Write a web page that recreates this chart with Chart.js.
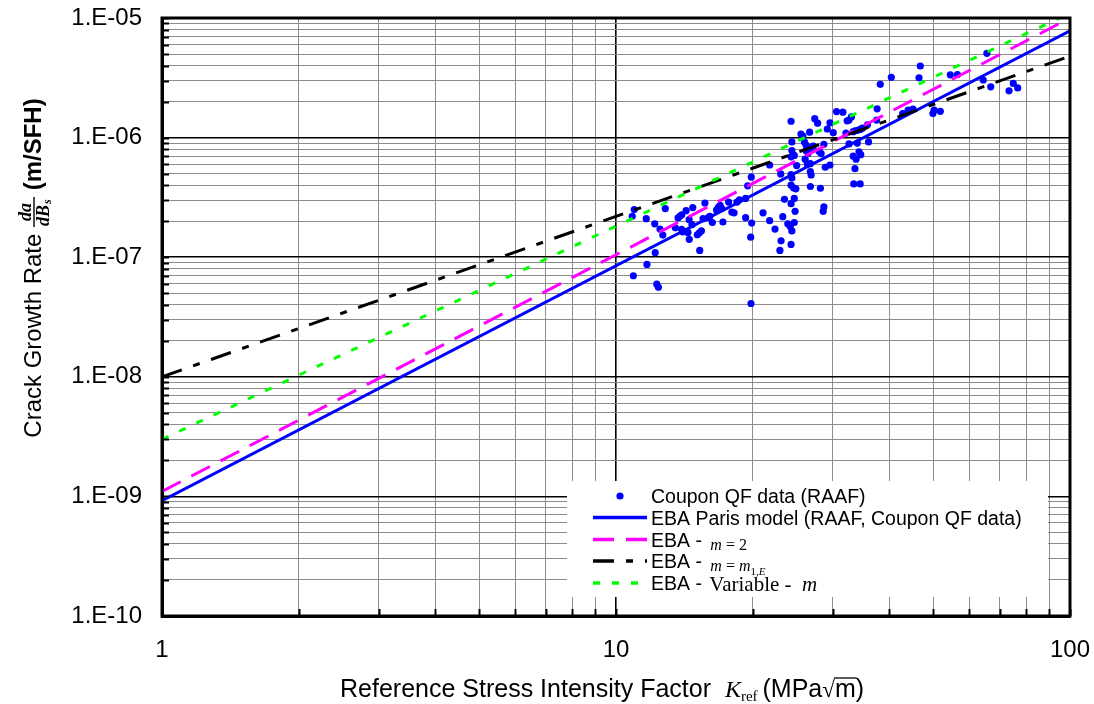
<!DOCTYPE html>
<html>
<head>
<meta charset="utf-8">
<script src="https://cdn.jsdelivr.net/npm/chart.js@4.4.1/dist/chart.umd.min.js"></script>
<style>
  html, body { margin: 0; padding: 0; background: #fff; }
  #wrap { width: 1094px; height: 704px; }
</style>
</head>
<body>
<div id="wrap"><canvas id="chart" width="1094" height="704"></canvas></div>
<script>
// Coupon QF test data (RAAF): reference stress intensity factor (MPa√m) and growth rate (m/SFH)
const couponK = [
  10.97, 10.86, 10.92, 11.66, 11.7, 12.17, 12.2, 12.3, 12.4, 12.5,
  12.68, 12.84, 13.51, 13.7, 13.84, 13.96, 13.95, 14.03, 14.27, 14.4,
  14.49, 14.5, 14.7, 14.76, 15.1, 15.26, 15.29, 15.42, 15.55, 15.7,
  15.97, 16.1, 16.3, 16.65, 16.8, 16.95, 17.1, 17.2, 17.7, 18.0,
  18.2, 18.47, 18.7, 19.3, 19.3, 19.5, 19.86, 19.9, 19.8, 19.83,
  21.08, 21.8, 21.8, 22.4, 22.96, 23.06, 23.1, 23.3, 23.5, 23.9,
  24.2, 24.3, 24.4, 24.4, 24.3, 24.7, 25.0, 24.3, 24.4, 24.3,
  24.6, 24.9, 24.7, 24.3, 24.8, 24.7, 24.4, 24.3, 25.55, 25.8,
  26.0, 26.2, 26.4, 26.2, 26.5, 26.8, 26.8, 26.4, 26.9, 26.8,
  26.7, 27.4, 27.2, 26.1, 26.8, 28.2, 27.8, 28.0, 28.3, 28.7,
  28.9, 29.6, 28.7, 28.6, 29.6, 29.2, 30.1, 30.6, 31.6, 33.0,
  32.3, 32.6, 35.8, 33.3, 33.6, 34.1, 34.5, 34.9, 32.1, 32.6,
  34.0, 36.0, 34.3, 34.6, 33.3, 33.8, 33.6, 33.4, 34.5, 37.6,
  37.5, 38.2, 40.4, 42.8, 44.0, 45.1, 50.2, 51.8, 49.9, 46.8,
  46.5, 54.5, 56.5, 65.6, 64.4, 66.9, 75.0, 76.7, 73.4
];
const couponRate = [
  2.5e-7, 2.2e-7, 7.0e-8, 2.1e-7, 8.7e-8, 1.9e-7, 1.09e-7, 5.95e-8, 5.6e-8, 1.72e-7,
  1.53e-7, 2.55e-7, 1.76e-7, 2.13e-7, 2.21e-7, 2.26e-7, 1.71e-7, 1.63e-7, 2.45e-7, 1.61e-7,
  2.06e-7, 1.41e-7, 1.87e-7, 2.6e-7, 1.54e-7, 1.6e-7, 1.14e-7, 1.66e-7, 2.1e-7, 2.84e-7,
  2.14e-7, 2.2e-7, 1.95e-7, 2.48e-7, 2.61e-7, 2.72e-7, 2.55e-7, 1.97e-7, 2.89e-7, 2.38e-7,
  2.35e-7, 2.89e-7, 3.02e-7, 2.14e-7, 3.1e-7, 3.95e-7, 4.68e-7, 1.93e-7, 1.47e-7, 4.1e-8,
  2.35e-7, 2.02e-7, 5.9e-7, 1.72e-7, 1.14e-7, 4.97e-7, 1.37e-7, 2.18e-7, 3.05e-7, 1.9e-7,
  1.81e-7, 1.37e-6, 9.2e-7, 7.8e-7, 6.9e-7, 7.1e-7, 5.84e-7, 4.9e-7, 4.6e-7, 4.0e-7,
  3.8e-7, 3.73e-7, 3.1e-7, 2.8e-7, 2.42e-7, 1.95e-7, 1.66e-7, 1.28e-7, 1.07e-6, 1.03e-6,
  9.2e-7, 8.7e-7, 8.3e-7, 7.8e-7, 7.4e-7, 8.1e-7, 6.05e-7, 6.0e-7, 4.87e-7, 3.9e-7,
  1.11e-6, 1.44e-6, 8.5e-7, 6.6e-7, 5.2e-7, 3.77e-7, 1.32e-6, 7.7e-7, 7.35e-7, 8.8e-7,
  5.65e-7, 5.9e-7, 2.63e-7, 2.42e-7, 1.33e-6, 1.18e-6, 1.1e-6, 1.65e-6, 1.63e-6, 1.49e-6,
  1.38e-6, 1.4e-6, 1.28e-6, 1.12e-6, 1.14e-6, 1.15e-6, 1.17e-6, 1.2e-6, 1.09e-6, 8.85e-7,
  9.0e-7, 9.2e-7, 7.6e-7, 7.2e-7, 7.0e-7, 6.6e-7, 5.5e-7, 4.1e-7, 4.1e-7, 1.74e-6,
  1.4e-6, 2.79e-6, 3.19e-6, 1.59e-6, 1.7e-6, 1.73e-6, 1.7e-6, 1.66e-6, 1.59e-6, 3.97e-6,
  3.16e-6, 3.35e-6, 3.37e-6, 5.07e-6, 3.03e-6, 2.66e-6, 2.84e-6, 2.6e-6, 2.46e-6
];

// EBA model curves: straight lines in log-log space, given by their end values
const modelK = [1, 100];
const parisRate = [9.2e-10, 7.8e-6];      // EBA Paris model (RAAF, Coupon QF data)
const m2Rate = [1.1e-9, 1.0e-5];          // EBA - m = 2
const m1ERate = [1.0e-8, 4.8e-6];         // EBA - m = m1,E
const variableMRate = [3.0e-9, 1.1e-5];   // EBA - Variable - m

// Axis tick labels
const xTickValues = [1, 10, 100];
const xTickLabels = ['1', '10', '100'];
const yTickValues = [1e-10, 1e-9, 1e-8, 1e-7, 1e-6, 1e-5];
const yTickLabels = ['1.E-10', '1.E-09', '1.E-08', '1.E-07', '1.E-06', '1.E-05'];

const SANS = "'Liberation Sans', Arial, sans-serif";
const SERIF = "'Liberation Serif', 'Times New Roman', serif";

const toPoints = (xs, ys) => xs.map((x, i) => ({ x, y: ys[i] }));
const isDecade = v => Math.abs(Math.log10(v) - Math.round(Math.log10(v))) < 1e-6;
const labelFor = (v, values, labels) => {
  const i = values.findIndex(t => Math.abs(Math.log10(t) - Math.log10(v)) < 1e-6);
  return i >= 0 ? labels[i] : '';
};
// 1..9 x 10^k gridline values between two decades
function logSteps(min, max) {
  const out = [];
  for (let e = Math.round(Math.log10(min)); e < Math.round(Math.log10(max)); e++) {
    for (let s = 1; s < 10; s++) out.push(s * Math.pow(10, e));
  }
  out.push(max);
  return out;
}

const gridColor = c => isDecade(c.tick.value) ? '#000000' : '#8c8c8c';
const gridWidth = c => isDecade(c.tick.value) ? 1.6 : 1;

// Inward tick marks on the left and bottom axes plus a full frame
const framePlugin = {
  id: 'frame',
  afterDatasetsDraw(chart) {
    const { ctx, chartArea: a, scales } = chart;
    ctx.save();
    ctx.strokeStyle = '#000';
    ctx.lineWidth = 2;
    ctx.beginPath();
    scales.y.ticks.forEach(t => {
      const y = Math.round(scales.y.getPixelForValue(t.value)) + 0.5;
      ctx.moveTo(a.left, y); ctx.lineTo(a.left + 7, y);
    });
    scales.x.ticks.forEach(t => {
      const x = Math.round(scales.x.getPixelForValue(t.value)) + 0.5;
      ctx.moveTo(x, a.bottom); ctx.lineTo(x, a.bottom - 7);
    });
    ctx.stroke();
    ctx.lineWidth = 3;
    ctx.strokeRect(a.left, a.top, a.right - a.left, a.bottom - a.top);
    ctx.restore();
  }
};

// Draws runs of text pieces, each with its own font and baseline shift
function drawRuns(ctx, runs, x, y) {
  runs.forEach(r => {
    ctx.font = r.font;
    ctx.fillText(r.text, x, y + (r.dy || 0));
    const w = ctx.measureText(r.text).width;
    if (r.overline) {
      ctx.save();
      ctx.lineWidth = 1.3;
      ctx.beginPath();
      ctx.moveTo(x - 1, y + r.overline);
      ctx.lineTo(x + w + 1, y + r.overline);
      ctx.stroke();
      ctx.restore();
    }
    x += w + (r.after || 0);
  });
  return x;
}
function runsWidth(ctx, runs) {
  return runs.reduce((s, r) => { ctx.font = r.font; return s + ctx.measureText(r.text).width + (r.after || 0); }, 0);
}

// Axis titles with math notation
const titlePlugin = {
  id: 'axisTitles',
  afterDraw(chart) {
    const { ctx } = chart;
    ctx.save();
    ctx.fillStyle = '#000';
    ctx.strokeStyle = '#000';
    ctx.textBaseline = 'alphabetic';
    ctx.textAlign = 'left';

    // x title
    const xr = [
      { text: 'Reference Stress Intensity Factor  ', font: `25px ${SANS}` },
      { text: 'K', font: `italic 24px ${SERIF}` },
      { text: 'ref', font: `15px ${SERIF}`, dy: 4, after: 5 },
      { text: '(MPa', font: `25px ${SANS}` },
      { text: '\u221A', font: `23px ${SERIF}`, after: 0 },
      { text: 'm', font: `25px ${SANS}`, overline: -19 },
      { text: ')', font: `25px ${SANS}` }
    ];
    drawRuns(ctx, xr, 340, 697);

    // y title, rotated
    ctx.translate(41, 0);
    ctx.rotate(-Math.PI / 2);
    const left = [{ text: 'Crack Growth Rate ', font: `24px ${SANS}` }];
    const right = [{ text: ' (m/SFH)', font: `bold 24px ${SANS}` }];
    const fracFont = `bold italic 18px ${SERIF}`;
    ctx.font = fracFont;
    const numW = ctx.measureText('da').width;
    const denW = ctx.measureText('dB').width + 7;
    const fracW = Math.max(numW, denW) + 2;
    const total = runsWidth(ctx, left) + fracW + runsWidth(ctx, right);
    const cy = 268; // centre along the axis, screen y
    let px = -cy - total / 2;
    const base = 0;
    px = drawRuns(ctx, left, px, base);
    ctx.font = fracFont;
    ctx.fillText('da', px + (fracW - numW) / 2, base - 10);
    ctx.lineWidth = 1.4;
    ctx.beginPath();
    ctx.moveTo(px, base - 7); ctx.lineTo(px + fracW, base - 7);
    ctx.stroke();
    ctx.fillText('dB', px + (fracW - denW) / 2, base + 8);
    ctx.font = `bold italic 12px ${SERIF}`;
    ctx.fillText('s', px + (fracW - denW) / 2 + denW - 6, base + 10);
    px += fracW;
    drawRuns(ctx, right, px, base);
    ctx.restore();
  }
};

// Series key with math-styled labels
const keyPlugin = {
  id: 'seriesKey',
  afterDatasetsDraw(chart) {
    const { ctx, chartArea: a } = chart;
    const ds = chart.data.datasets;
    const boxL = a.left + 405, boxR = a.right - 22, boxT = a.bottom - 135, boxB = a.bottom - 19;
    ctx.save();
    ctx.fillStyle = '#fff';
    ctx.fillRect(boxL, boxT, boxR - boxL, boxB - boxT);
    const x0 = boxL + 26, x1 = boxL + 80, tx = boxL + 84;
    const rows = [boxT + 15, boxT + 36.5, boxT + 58.5, boxT + 80, boxT + 102];
    // marker
    ctx.fillStyle = ds[0].backgroundColor;
    ctx.beginPath();
    ctx.arc((x0 + x1) / 2, rows[0], ds[0].pointRadius, 0, Math.PI * 2);
    ctx.fill();
    // line samples
    for (let i = 1; i < 5; i++) {
      ctx.strokeStyle = ds[i].borderColor;
      ctx.lineWidth = ds[i].borderWidth + 0.5;
      ctx.setLineDash(ds[i].borderDash || []);
      ctx.beginPath();
      ctx.moveTo(x0, rows[i]); ctx.lineTo(x1, rows[i]);
      ctx.stroke();
    }
    ctx.setLineDash([]);
    ctx.fillStyle = '#000';
    ctx.textBaseline = 'alphabetic';
    const sans = `19.5px ${SANS}`;
    const it = `italic 16px ${SERIF}`, up = `16px ${SERIF}`;
    drawRuns(ctx, [{ text: 'Coupon QF data (RAAF)', font: sans }], tx, rows[0] + 7);
    drawRuns(ctx, [{ text: 'EBA Paris model (RAAF, Coupon QF data)', font: sans }], tx, rows[1] + 7);
    drawRuns(ctx, [
      { text: 'EBA - ', font: sans, after: 3 },
      { text: 'm', font: it, dy: 3 }, { text: ' = 2', font: up, dy: 3 }
    ], tx, rows[2] + 7);
    drawRuns(ctx, [
      { text: 'EBA - ', font: sans, after: 3 },
      { text: 'm', font: it, dy: 3 }, { text: ' = ', font: up, dy: 3 },
      { text: 'm', font: it, dy: 3 },
      { text: '1,', font: `11px ${SERIF}`, dy: 7 }, { text: 'E', font: `italic 11px ${SERIF}`, dy: 7 }
    ], tx, rows[3] + 7);
    drawRuns(ctx, [
      { text: 'EBA - ', font: sans, after: 2 },
      { text: 'Variable -  ', font: `21px ${SERIF}`, dy: 1 },
      { text: 'm', font: `italic 21px ${SERIF}`, dy: 1 }
    ], tx, rows[4] + 7);
    ctx.restore();
  }
};

const scaleBase = (min, max, values, labels) => ({
  type: 'logarithmic',
  min, max,
  afterBuildTicks: s => { s.ticks = logSteps(min, max).map(v => ({ value: v })); },
  ticks: {
    autoSkip: false,
    maxRotation: 0,
    color: '#000',
    font: { family: SANS, size: 24 },
    callback: v => labelFor(v, values, labels)
  },
  grid: { drawTicks: false, color: gridColor, lineWidth: gridWidth },
  border: { display: true, color: '#000', width: 3 }
});

// Fixed axis band sizes; label overhang is absorbed by the layout padding
const clearPadding = s => { s.paddingTop = 0; s.paddingBottom = 0; s.paddingLeft = 0; s.paddingRight = 0; };

const xScale = scaleBase(1, 100, xTickValues, xTickLabels);
xScale.position = 'bottom';
xScale.ticks.padding = 20;
xScale.afterFit = s => { s.height = 88; clearPadding(s); };
const yScale = scaleBase(1e-10, 1e-5, yTickValues, yTickLabels);
yScale.position = 'left';
yScale.ticks.padding = 20;
yScale.afterFit = s => { s.width = 162; clearPadding(s); };

new Chart(document.getElementById('chart'), {
  type: 'scatter',
  data: {
    datasets: [
      { label: 'Coupon QF data (RAAF)', data: toPoints(couponK, couponRate),
        showLine: false, pointRadius: 3.6, pointBorderWidth: 0,
        backgroundColor: '#0000ff', borderColor: '#0000ff', order: 5 },
      { label: 'EBA Paris model (RAAF, Coupon QF data)', data: toPoints(modelK, parisRate),
        showLine: true, pointRadius: 0, borderColor: '#0000ff', borderWidth: 3, order: 4 },
      { label: 'EBA - m = 2', data: toPoints(modelK, m2Rate),
        showLine: true, pointRadius: 0, borderColor: '#ff00ff', borderWidth: 3,
        borderDash: [21, 12], order: 3 },
      { label: 'EBA - m = m1,E', data: toPoints(modelK, m1ERate),
        showLine: true, pointRadius: 0, borderColor: '#000000', borderWidth: 3,
        borderDash: [21, 12, 7, 12], order: 2 },
      { label: 'EBA - Variable - m', data: toPoints(modelK, variableMRate),
        showLine: true, pointRadius: 0, borderColor: '#00ff00', borderWidth: 3,
        borderDash: [7, 12], order: 1 }
    ]
  },
  options: {
    responsive: false,
    animation: false,
    layout: { padding: { top: 18, right: 24, left: 0, bottom: 0 } },
    plugins: { legend: { display: false }, tooltip: { enabled: false } },
    scales: { x: xScale, y: yScale }
  },
  plugins: [keyPlugin, framePlugin, titlePlugin]
});
</script>
</body>
</html>
